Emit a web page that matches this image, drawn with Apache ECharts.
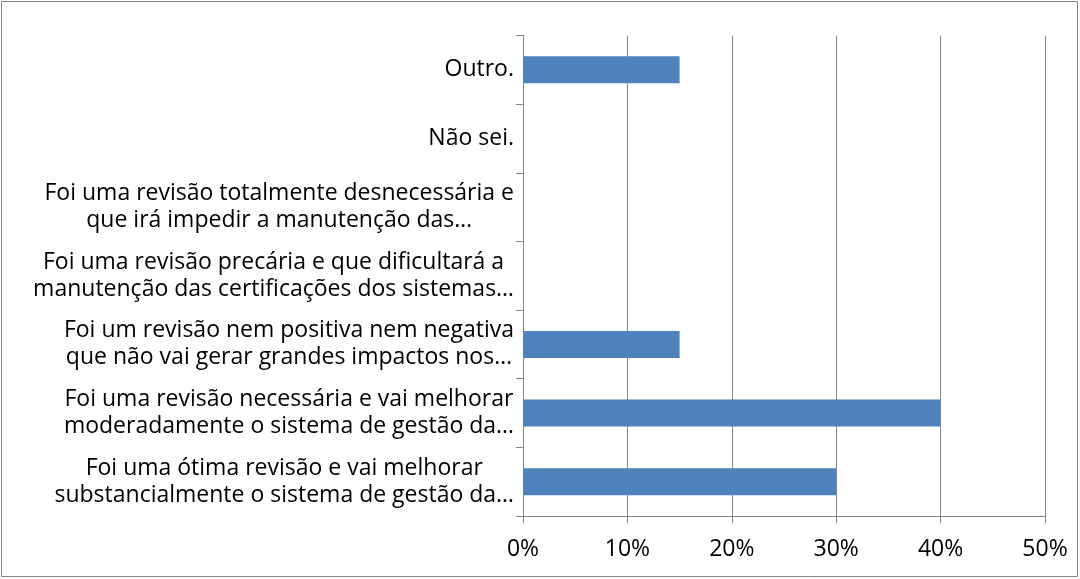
<!DOCTYPE html>
<html>
<head>
<meta charset="utf-8">
<script src="https://cdn.jsdelivr.net/npm/echarts@6/dist/echarts.min.js"></script>
<style>
html,body{margin:0;padding:0;background:#fff;}
#c{width:1080px;height:579px;}
</style>
</head>
<body>
<div id="c"></div>
<script>
// Categories listed bottom to top
const categories = [
  "Foi uma ótima revisão e vai melhorar\nsubstancialmente o sistema de gestão da…",
  "Foi uma revisão necessária e vai melhorar\nmoderadamente o sistema de gestão da…",
  "Foi um revisão nem positiva nem negativa\nque não vai gerar grandes impactos nos…",
  "Foi uma revisão precária e que dificultará a\nmanutenção das certificações dos sistemas…",
  "Foi uma revisão totalmente desnecessária e\nque irá impedir a manutenção das…",
  "Não sei.",
  "Outro."
];
const values = [30, 40, 15, 0, 0, 0, 15];
const xTicks = [0, 10, 20, 30, 40, 50];

const FONT = 'Open Sans';
const FS = 23;
const chart = echarts.init(document.getElementById('c'));
chart.setOption({
  animation: false,
  grid: {left: 523, right: 35, top: 35.5, bottom: 63, containLabel: false},
  graphic: [{
    type: 'rect', shape: {x: 1.5, y: 1.5, width: 1076, height: 575},
    style: {fill: 'none', stroke: '#868686', lineWidth: 1}, silent: true
  }],
  xAxis: {
    type: 'value', min: xTicks[0], max: xTicks[xTicks.length - 1], interval: 10,
    axisLine: {show: true, lineStyle: {color: '#868686', width: 1}},
    axisTick: {show: true, inside: false, length: 7, lineStyle: {color: '#868686'}},
    splitLine: {show: true, lineStyle: {color: '#868686', width: 1}},
    axisLabel: {formatter: '{value}%', color: '#000', fontFamily: FONT, fontSize: FS, margin: 22}
  },
  yAxis: {
    type: 'category', data: categories,
    axisLine: {show: true, lineStyle: {color: '#868686', width: 1}},
    axisTick: {show: true, inside: false, length: 7, alignWithLabel: false, lineStyle: {color: '#868686'}},
    splitLine: {show: false},
    axisLabel: {
      color: '#000', fontFamily: FONT, fontSize: FS, margin: 9, lineHeight: 27, interval: 0,
      formatter: function (v) { return v.split('\n').map(l => '{c|' + l + '}').join('\n'); },
      rich: {c: {align: 'center', fontFamily: FONT, fontSize: FS, color: '#000', lineHeight: 27}}
    }
  },
  series: [{
    type: 'bar', data: values, barWidth: 27,
    itemStyle: {color: '#4F81BD'}
  }]
});
</script>
</body>
</html>
